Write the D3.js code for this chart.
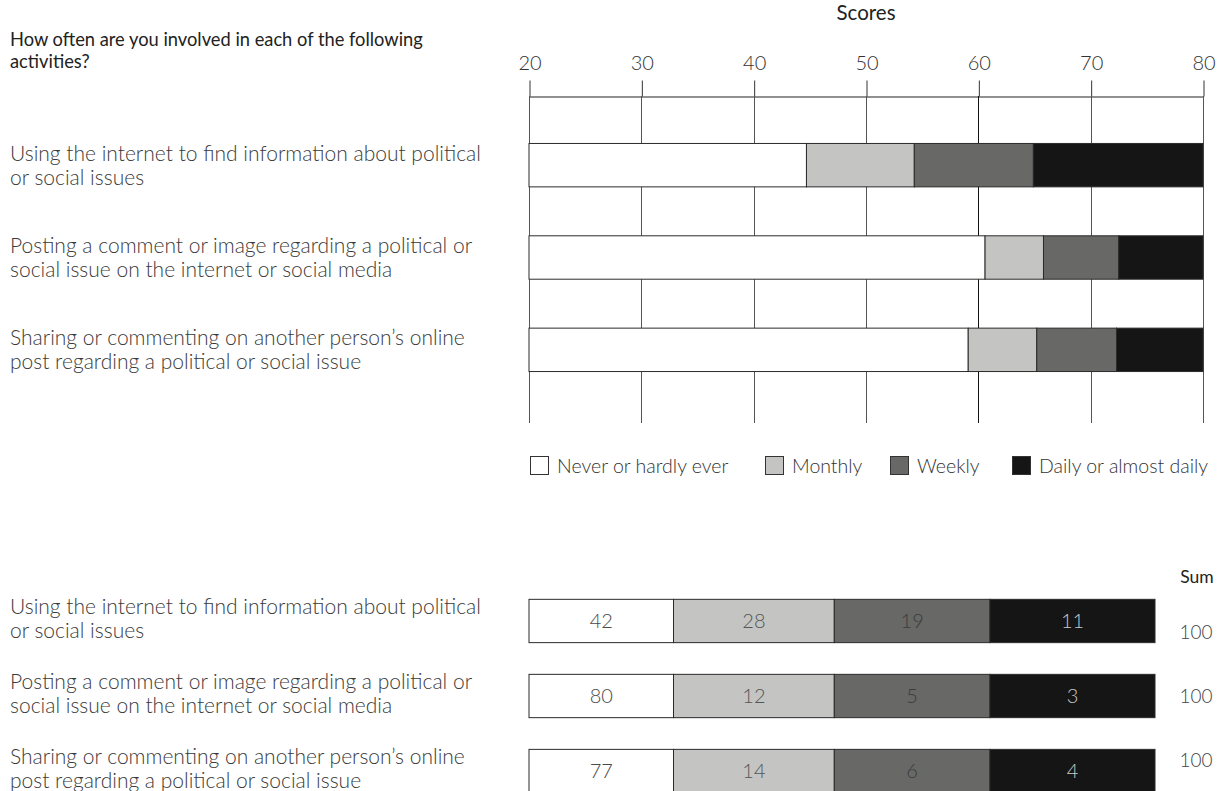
<!DOCTYPE html>
<html>
<head>
<meta charset="utf-8">
<script src="https://cdn.jsdelivr.net/npm/d3@7"></script>
<style>
  html, body { margin: 0; padding: 0; background: #fff; }
  svg { display: block; }
  text { font-family: Lato, "Open Sans", sans-serif; }
</style>
</head>
<body>
<svg id="chart" width="1221" height="791"></svg>
<script>
// ---------- data ----------
const title = ["How often are you involved in each of the following", "activities?"];
const categories = ["internet", "posting", "sharing"];
const categoryLines = [
  ["Using the internet to find information about political", "or social issues"],
  ["Posting a comment or image regarding a political or", "social issue on the internet or social media"],
  ["Sharing or commenting on another person\u2019s online", "post regarding a political or social issue"]
];
const seriesNames = ["Never or hardly ever", "Monthly", "Weekly", "Daily or almost daily"];
const seriesColors = ["#ffffff", "#c4c5c3", "#686866", "#151515"];
const labelColors = ["#4a4a4a", "#555555", "#3c3c3c", "#c8c8c8"];

// top chart: score thresholds where each category ends
const scoreStart = [20, 20, 20];
const neverEnd = [44.7, 60.6, 59.1];
const monthlyEnd = [54.3, 65.8, 65.2];
const weeklyEnd = [64.9, 72.5, 72.3];
const dailyEnd = [80, 80, 80];
const scoreTicks = [20, 30, 40, 50, 60, 70, 80];
const axisTitle = "Scores";

// bottom chart: percentages
const neverPct = [42, 80, 77];
const monthlyPct = [28, 12, 14];
const weeklyPct = [19, 5, 6];
const dailyPct = [11, 3, 4];
const sums = [100, 100, 100];
const sumTitle = "Sum";

// ---------- drawing ----------
const svg = d3.select("#chart");
const FONT_LIGHT = 300;

// Title
svg.append("g").selectAll("text").data(title).join("text")
  .attr("x", 10).attr("y", (d, i) => 46 + i * 22)
  .attr("font-size", 18.3).attr("fill", "#222").text(d => d);

// ---- Top chart ----
const x = d3.scaleLinear().domain([20, 80]).range([529, 1203]);
const y = d3.scaleBand().domain(categories).range([119, 396]).paddingInner(0.53).paddingOuter(0.265);
const gridTop = 96, gridBottom = 423;

// axis title
svg.append("text").attr("x", x(50)).attr("y", 20).attr("text-anchor", "middle")
  .attr("font-size", 20.5).attr("fill", "#222").text(axisTitle);

// axis
const axisG = svg.append("g").attr("transform", `translate(0.5,${gridTop + 0.5})`)
  .call(d3.axisTop(x).tickValues(scoreTicks).tickSizeInner(16).tickSizeOuter(0).tickPadding(11));
axisG.select(".domain").attr("stroke", "#222");
axisG.selectAll(".tick line").attr("stroke", "#333");
axisG.selectAll(".tick text").attr("font-family", "Lato, sans-serif").attr("font-size", 20)
  .attr("font-weight", FONT_LIGHT).attr("fill", "#333");

// gridlines
svg.append("g").selectAll("line").data(scoreTicks).join("line")
  .attr("x1", d => Math.round(x(d)) + 0.5).attr("x2", d => Math.round(x(d)) + 0.5)
  .attr("y1", gridTop).attr("y2", gridBottom)
  .attr("stroke", d => d === 60 ? "#111" : "#555").attr("stroke-width", 1);

// stacked segments
const topSegs = [];
categories.forEach((c, i) => {
  const bounds = [scoreStart[i], neverEnd[i], monthlyEnd[i], weeklyEnd[i], dailyEnd[i]];
  for (let k = 0; k < 4; k++) topSegs.push({ cat: c, k, x0: bounds[k], x1: bounds[k + 1] });
});
svg.append("g").selectAll("rect").data(topSegs).join("rect")
  .attr("x", d => x(d.x0)).attr("width", d => x(d.x1) - x(d.x0))
  .attr("y", d => y(d.cat)).attr("height", y.bandwidth())
  .attr("fill", d => seriesColors[d.k]).attr("stroke", "#2b2b2b").attr("stroke-width", 1);

// left labels, top
const lblTop = svg.append("g");
categories.forEach((c, i) => {
  const cy = y(c) + y.bandwidth() / 2;
  lblTop.selectAll(null).data(categoryLines[i]).join("text")
    .attr("x", 10).attr("y", (d, j) => cy - 12 + j * 24 + 7.5)
    .attr("font-size", 21).attr("font-weight", FONT_LIGHT).attr("fill", "#3a3a3a").text(d => d);
});

// legend
const legendX = d3.scaleOrdinal().domain(seriesNames).range([530, 765, 890, 1012]);
const leg = svg.append("g").selectAll("g").data(seriesNames).join("g")
  .attr("transform", d => `translate(${legendX(d)},456)`);
leg.append("rect").attr("x", 0.5).attr("y", 0.5).attr("width", 18).attr("height", 18)
  .attr("fill", (d, i) => seriesColors[i]).attr("stroke", "#333").attr("stroke-width", 1);
leg.append("text").attr("x", 27).attr("y", 16.5).attr("font-size", 19.5)
  .attr("font-weight", FONT_LIGHT).attr("fill", "#333").text(d => d);

// ---- Bottom chart ----
const col = d3.scaleLinear().domain([0, 1, 2, 3, 4]).range([529, 673.5, 834.3, 990, 1155]);
const yb = d3.scaleBand().domain(categories).range([583.5, 808.5]).paddingInner(0.4227).paddingOuter(0.211);
const pctSeries = [neverPct, monthlyPct, weeklyPct, dailyPct];
const botSegs = [];
categories.forEach((c, i) => {
  for (let k = 0; k < 4; k++) botSegs.push({ cat: c, k, v: pctSeries[k][i] });
});
const bg = svg.append("g");
bg.selectAll("rect").data(botSegs).join("rect")
  .attr("x", d => col(d.k)).attr("width", d => col(d.k + 1) - col(d.k))
  .attr("y", d => yb(d.cat)).attr("height", yb.bandwidth())
  .attr("fill", d => seriesColors[d.k]).attr("stroke", "#2b2b2b").attr("stroke-width", 1);
bg.selectAll("text").data(botSegs).join("text")
  .attr("x", d => (col(d.k) + col(d.k + 1)) / 2)
  .attr("y", d => yb(d.cat) + yb.bandwidth() / 2 + 7)
  .attr("text-anchor", "middle").attr("font-size", 20).attr("font-weight", FONT_LIGHT)
  .attr("fill", d => labelColors[d.k]).text(d => d.v);

// left labels, bottom
const lblBot = svg.append("g");
categories.forEach((c, i) => {
  const cy = yb(c) + yb.bandwidth() / 2 - 2.5;
  lblBot.selectAll(null).data(categoryLines[i]).join("text")
    .attr("x", 10).attr("y", (d, j) => cy - 12 + j * 24 + 7.5)
    .attr("font-size", 21).attr("font-weight", FONT_LIGHT).attr("fill", "#3a3a3a").text(d => d);
});

// sums
const ys = d3.scalePoint().domain(categories).range([632, 760]);
svg.append("text").attr("x", 1197).attr("y", 583).attr("text-anchor", "middle")
  .attr("font-size", 17.5).attr("fill", "#222").text(sumTitle);
svg.append("g").selectAll("text").data(categories).join("text")
  .attr("x", 1196).attr("y", d => ys(d) + 7).attr("text-anchor", "middle")
  .attr("font-size", 19).attr("font-weight", FONT_LIGHT).attr("fill", "#444")
  .text((d, i) => sums[i]);
</script>
</body>
</html>
